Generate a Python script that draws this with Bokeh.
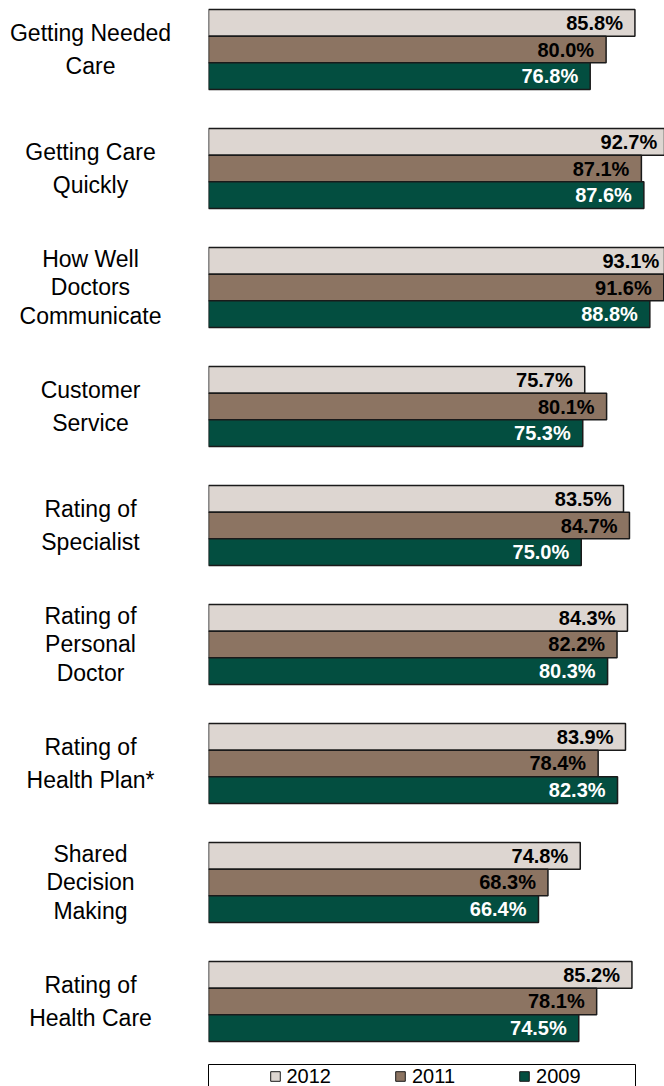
from bokeh.plotting import figure
from bokeh.models import FactorRange, ColumnDataSource, Range1d, Legend, LegendItem
from bokeh.layouts import column, row
from bokeh.transform import dodge
from bokeh.core.properties import value
from bokeh.embed import file_html
from bokeh.resources import INLINE

# ---------------- data ----------------
categories = [
    "Getting Needed\nCare",
    "Getting Care\nQuickly",
    "How Well\nDoctors\nCommunicate",
    "Customer\nService",
    "Rating of\nSpecialist",
    "Rating of\nPersonal\nDoctor",
    "Rating of\nHealth Plan*",
    "Shared\nDecision\nMaking",
    "Rating of\nHealth Care",
]
years = ["2012", "2011", "2009"]
v2012 = [85.8, 92.7, 93.1, 75.7, 83.5, 84.3, 83.9, 74.8, 85.2]
v2011 = [80.0, 87.1, 91.6, 80.1, 84.7, 82.2, 78.4, 68.3, 78.1]
v2009 = [76.8, 87.6, 88.8, 75.3, 75.0, 80.3, 82.3, 66.4, 74.5]

# ---------------- styles ----------------
series_vals = [v2012, v2011, v2009]
fill_colors = ["#DDD6D1", "#8C7462", "#034E40"]
text_colors = ["#000000", "#000000", "#FFFFFF"]
FONT = "Liberation Sans"
BAR = 0.2241                       # bar thickness in category units
offsets = [BAR, 0.0, -BAR]         # 2012 on top, 2009 at bottom

ROW_H = 1050
yr = FactorRange(factors=list(reversed(categories)),
                 range_padding=-0.0196, range_padding_units="percent")

common = dict(toolbar_location=None, output_backend="svg",
              x_axis_location=None, y_axis_location=None,
              outline_line_color=None, background_fill_color="white",
              border_fill_color="white")

# ---------------- category labels ----------------
lab = figure(width=180, height=ROW_H, y_range=yr, x_range=Range1d(0, 1),
             min_border_left=0, min_border_right=0, min_border_top=0,
             min_border_bottom=0, **common)
lab.grid.visible = False
for nlines, lh in ((2, 1.24), (3, 1.1)):
    cats = [c for c in categories if c.count("\n") + 1 == nlines]
    lab.text(x=0.5, y="cat", text="cat", source=ColumnDataSource(dict(cat=cats)),
             text_align="center", text_baseline="middle",
             text_font=value(FONT), text_font_size="23px",
             text_line_height=lh, text_color="#000000")

# ---------------- bars ----------------
p = figure(width=484, height=ROW_H, y_range=yr, x_range=Range1d(0, 91.75),
           min_border_left=28, min_border_right=0, min_border_top=0,
           min_border_bottom=0, **common)
p.grid.visible = False

sources = []
for yname, vals, fc, tc, off in zip(years, series_vals, fill_colors, text_colors, offsets):
    src = ColumnDataSource(dict(cat=categories, val=vals,
                                lbl=[f"{v:.1f}%" for v in vals]))
    sources.append(src)
    p.hbar(y=dodge("cat", off, range=yr), left=0, right="val", height=BAR,
           source=src, fill_color=fc, line_color="#1a1a1a", line_width=1.5)
    p.text(x="val", y=dodge("cat", off, range=yr), text="lbl", source=src,
           x_offset=-12, text_align="right", text_baseline="middle",
           text_font=value(FONT), text_font_size="20px",
           text_font_style="bold", text_color=tc)

# ---------------- legend ----------------
lf = figure(width=664, height=40, x_range=Range1d(0, 1), y_range=Range1d(0, 1),
            toolbar_location=None, output_backend="svg",
            x_axis_location=None, y_axis_location=None,
            min_border_left=208, min_border_right=29, min_border_top=14,
            min_border_bottom=0, outline_line_color="black",
            outline_line_width=1, background_fill_color="white",
            border_fill_color="white")
lf.grid.visible = False
items = []
for yname, fc, src in zip(years, fill_colors, sources):
    # series values lie far outside this strip's 0..1 range: only the key shows
    r = lf.scatter(x="val", y="val", source=src, marker="square", size=0,
                   fill_color=fc, line_color="#1a1a1a", line_width=1)
    items.append(LegendItem(label=yname, renderers=[r]))
legend = Legend(items=items, location="top_center", orientation="horizontal",
                margin=0, padding=0, spacing=57, glyph_width=24,
                glyph_height=24, label_standoff=-2,
                label_text_font=FONT, label_text_font_size="20px",
                label_text_color="#000000",
                border_line_color=None, background_fill_alpha=0)
lf.add_layout(legend)

layout = column(row(lab, p), lf)
open("out.html", "w").write(file_html(layout, INLINE))
